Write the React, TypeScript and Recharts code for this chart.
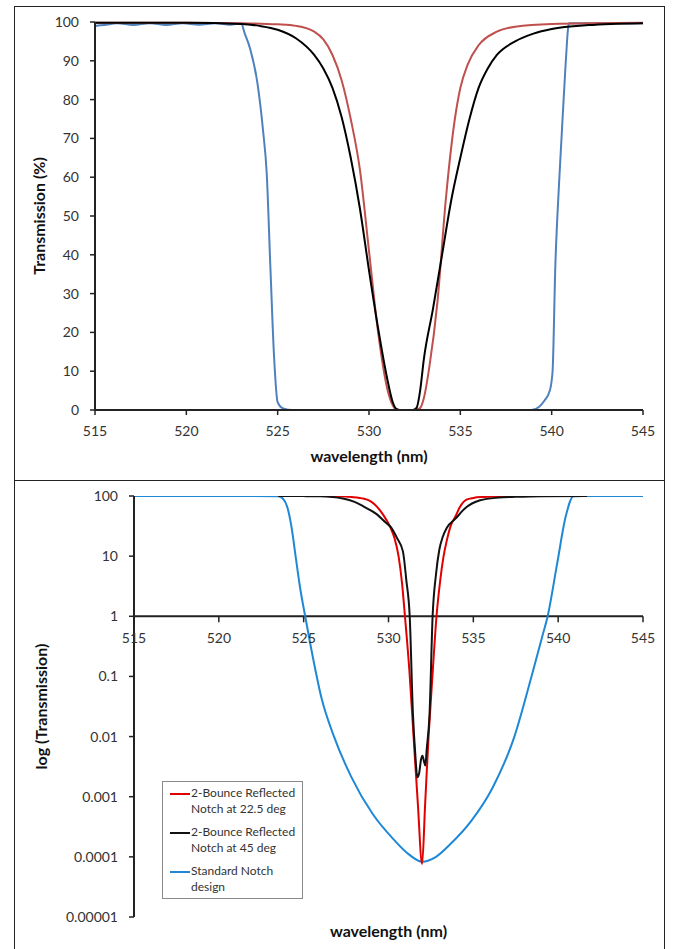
import React from "react";
import {
  LineChart,
  Line,
  XAxis,
  YAxis,
  Label,
  Legend,
  ReferenceLine,
  ReferenceDot,
} from "recharts";

const FONT = "Lato, 'Open Sans', sans-serif";

const wlTicks = [515, 520, 525, 530, 535, 540, 545];
const linTicks = [0, 10, 20, 30, 40, 50, 60, 70, 80, 90, 100];
const logTicks = [0.00001, 0.0001, 0.001, 0.01, 0.1, 1, 10, 100];

const nameRed = "2-Bounce Reflected\nNotch at 22.5 deg";
const nameBlack = "2-Bounce Reflected\nNotch at 45 deg";
const nameBlue = "Standard Notch\ndesign";

// top panel: transmission in %
const linBlueWl = [515, 515.5, 516.2, 517.1, 518, 518.9, 519.8, 520.7, 521.6, 522.4, 523, 523.2, 523.5, 523.9, 524.2, 524.4, 524.6, 524.8, 525, 525.3, 525.8, 530, 535, 538.9, 539.3, 539.6, 539.9, 540.05, 540.2, 540.4, 540.55, 540.75, 540.95, 542, 545];
const linBlueT = [99.0, 99.2, 99.7, 99.2, 99.7, 99.2, 99.7, 99.3, 99.7, 99.3, 99.6, 97, 93, 84, 72, 61, 37, 14, 2, 0.4, 0, 0, 0, 0, 0.8, 2.4, 5, 10, 37, 58, 71, 88, 99.7, 99.7, 99.7];

const linRedWl = [515, 520, 523, 525, 526, 527, 527.5, 528, 528.5, 529, 529.5, 530, 530.5, 531, 531.3, 531.5, 532.5, 532.8, 533, 533.3, 533.75, 534.2, 534.7, 535, 535.4, 536, 537, 538, 540, 545];
const linRedT = [99.8, 99.8, 99.7, 99.4, 99, 97.5, 95.5, 91.5, 85, 75, 62, 41, 20, 5.5, 1.2, 0, 0, 0.5, 3, 11, 28, 54, 75, 83, 89, 94, 97.5, 98.8, 99.5, 99.8];

const linBlackWl = [515, 520, 523, 524, 525, 526, 527, 527.5, 528, 528.5, 529, 529.5, 530, 530.5, 531, 531.3, 531.5, 531.7, 532.4, 532.6, 532.8, 533, 533.5, 534, 534.5, 535, 535.5, 536, 536.5, 537, 538, 539, 540, 542, 545];
const linBlackT = [99.8, 99.8, 99.5, 99, 98, 95.8, 91.5, 88, 83, 75.5, 65, 52, 36, 21, 8, 2, 0.3, 0, 0, 0.5, 5, 13, 26, 40, 54, 65, 75, 83, 88, 91.5, 95, 97, 98.2, 99.2, 99.7];

// bottom panel: same filters on a log scale
const logBlueWl = [515, 520, 523.5, 523.77, 524.03, 524.28, 524.53, 524.78, 525.09, 525.54, 526.04, 526.8, 527.82, 529.08, 530.34, 531.2, 531.98, 532.8, 533.62, 534.89, 536.15, 537.41, 538.42, 539.05, 539.38, 539.94, 540.44, 540.9, 541.5, 545];
const logBlueT = [100, 100, 99.5, 91, 66, 31, 9.7, 3.1, 1, 0.21, 0.045, 0.0098, 0.0021, 0.00051, 0.00019, 0.00011, 0.000083, 0.0001, 0.00016, 0.0004, 0.00144, 0.0098, 0.098, 0.45, 1, 7.5, 45, 99, 100, 100];

const logRedWl = [523.5, 526, 527, 527.8, 528.57, 529, 529.33, 529.7, 530.09, 530.35, 530.6, 530.8, 530.97, 531.23, 531.48, 531.73, 531.98, 532.16, 532.36, 532.61, 532.83, 533.05, 533.24, 533.45, 533.65, 533.95, 534.2, 534.6, 535, 535.6, 536.5, 537.5, 541.7];
const logRedT = [100, 99.7, 99, 96.5, 90, 80, 66, 48, 31, 20, 9.7, 3.5, 1, 0.126, 0.0098, 0.00076, 0.000076, 0.00076, 0.0098, 0.126, 1, 4, 9.7, 19, 31, 46, 65, 87, 93, 96.5, 98.5, 99.6, 100];

const logBlackWl = [523.5, 525, 526, 527.31, 528, 528.57, 529.3, 529.8, 530.15, 530.5, 530.85, 531.05, 531.25, 531.44, 531.58, 531.7, 531.8, 531.92, 532, 532.1, 532.17, 532.25, 532.42, 532.6, 532.8, 533, 533.2, 533.45, 533.95, 534.5, 535.4, 536.5, 537.5, 539, 541.7];
const logBlackT = [100, 99.6, 98.8, 91, 80, 66, 50, 37, 30, 20, 12, 4, 1, 0.024, 0.005, 0.0021, 0.0024, 0.0042, 0.0048, 0.0038, 0.0033, 0.006, 0.024, 1, 5, 13, 21, 30, 42, 62, 85, 94, 97, 99.5, 100];

const zip = (wl: number[], t: number[]) => wl.map((w, i) => ({ wl: w, t: t[i] }));

const tickStyle = { fill: "#333", fontSize: 14, fontFamily: FONT };
const axisLine = { stroke: "#222", strokeWidth: 2 };
const tickLine = { stroke: "#222", strokeWidth: 1.5 };
const titleStyle = { fontWeight: 700, fontSize: 16, fill: "#111", fontFamily: FONT, textAnchor: "middle" as const };

const LinearPanel = () => (
  <LineChart width={674} height={480} margin={{ top: 22, right: 31, bottom: 0, left: 14 }}>
    <XAxis
      type="number"
      dataKey="wl"
      domain={[515, 545]}
      ticks={wlTicks}
      interval={0}
      height={70}
      tickSize={5}
      tickMargin={11}
      tick={tickStyle}
      axisLine={axisLine}
      tickLine={tickLine}
    >
      <Label value="wavelength (nm)" position="insideBottom" offset={18} style={titleStyle} />
    </XAxis>
    <YAxis
      type="number"
      domain={[0, 100]}
      ticks={linTicks}
      interval={0}
      width={81}
      tickSize={5}
      tickMargin={11}
      tick={tickStyle}
      axisLine={axisLine}
      tickLine={tickLine}
    >
      <Label value="Transmission (%)" angle={-90} position="insideLeft" offset={25} style={titleStyle} />
    </YAxis>
    <Line data={zip(linBlueWl, linBlueT)} dataKey="t" name={nameBlue} type="monotone" stroke="#4F81BD" strokeWidth={2} dot={false} activeDot={false} isAnimationActive={false} />
    <Line data={zip(linRedWl, linRedT)} dataKey="t" name={nameRed} type="monotone" stroke="#C0504D" strokeWidth={2} dot={false} activeDot={false} isAnimationActive={false} />
    <Line data={zip(linBlackWl, linBlackT)} dataKey="t" name={nameBlack} type="monotone" stroke="#000" strokeWidth={2} dot={false} activeDot={false} isAnimationActive={false} />
  </LineChart>
);

// x ticks sit on the y = 1 line in the log panel
const TickAtOne = ({ cx, cy, value }: any) => (
  <g>
    <line x1={cx} y1={cy} x2={cx} y2={cy + 6} stroke="#222" strokeWidth={1.5} />
    <text x={cx} y={cy + 27} textAnchor="middle" fill="#333" fontSize={14} fontFamily={FONT}>
      {value}
    </text>
  </g>
);

const legendOrder = [nameRed, nameBlack, nameBlue];

const NotchLegend = ({ payload }: any) => {
  const items = [...(payload ?? [])].sort(
    (a: any, b: any) => legendOrder.indexOf(a.value) - legendOrder.indexOf(b.value)
  );
  return (
    <div
      style={{
        boxSizing: "border-box",
        width: 141,
        height: 118,
        border: "1px solid #8a8a8a",
        background: "#fff",
        padding: "3px 0 0 7px",
        fontFamily: FONT,
        fontSize: 12,
        lineHeight: "16.3px",
        color: "#333",
        textAlign: "left",
      }}
    >
      {items.map((it: any, i: number) => (
        <div key={i} style={{ display: "flex", alignItems: "flex-start", marginBottom: 6.5 }}>
          <span style={{ display: "inline-block", width: 20, height: 2, background: it.color, marginTop: 7.5, flex: "none" }} />
          <span style={{ whiteSpace: "pre", marginLeft: 1 }}>{it.value}</span>
        </div>
      ))}
    </div>
  );
};

const LogPanel = () => (
  <LineChart width={674} height={469} margin={{ top: 16, right: 31, bottom: 0, left: 14 }}>
    <XAxis
      type="number"
      dataKey="wl"
      domain={[515, 545]}
      ticks={wlTicks}
      height={32}
      axisLine={false}
      tickLine={false}
      tick={false}
    >
      <Label value="wavelength (nm)" position="insideBottom" offset={12} style={titleStyle} />
    </XAxis>
    <YAxis
      scale="log"
      domain={[0.00001, 100]}
      allowDataOverflow
      ticks={logTicks}
      interval={0}
      width={120}
      tickSize={5}
      tickMargin={11}
      tick={tickStyle}
      axisLine={axisLine}
      tickLine={tickLine}
    >
      <Label value="log (Transmission)" angle={-90} position="insideLeft" offset={27} style={titleStyle} />
    </YAxis>
    <ReferenceLine y={1} stroke="#222" strokeWidth={2} />
    {wlTicks.map((v) => (
      <ReferenceDot key={v} x={v} y={1} shape={(p: any) => <TickAtOne cx={p.cx} cy={p.cy} value={v} />} />
    ))}
    <Line data={zip(logBlueWl, logBlueT)} dataKey="t" name={nameBlue} type="monotone" stroke="#1E88D6" strokeWidth={2} dot={false} activeDot={false} isAnimationActive={false} />
    <Line data={zip(logRedWl, logRedT)} dataKey="t" name={nameRed} type="monotone" stroke="#E00000" strokeWidth={2} dot={false} activeDot={false} isAnimationActive={false} />
    <Line data={zip(logBlackWl, logBlackT)} dataKey="t" name={nameBlack} type="monotone" stroke="#111" strokeWidth={2} dot={false} activeDot={false} isAnimationActive={false} />
    <Legend
      layout="horizontal"
      verticalAlign="middle"
      align="center"
      content={<NotchLegend />}
      wrapperStyle={{ left: 162, top: 301, width: 141, height: 118 }}
    />
  </LineChart>
);

export default function App() {
  return (
    <div style={{ position: "absolute", left: 0, top: 0, width: 674, height: 949, overflow: "hidden", background: "#fff" }}>
      <div style={{ position: "absolute", left: 14, top: 6, width: 651, height: 475, border: "1.5px solid #222", boxSizing: "border-box" }} />
      <div style={{ position: "absolute", left: 14, top: 480, width: 651, height: 480, border: "1.5px solid #222", boxSizing: "border-box" }} />
      <div style={{ position: "absolute", left: 0, top: 0 }}>
        <LinearPanel />
      </div>
      <div style={{ position: "absolute", left: 0, top: 480 }}>
        <LogPanel />
      </div>
    </div>
  );
}
